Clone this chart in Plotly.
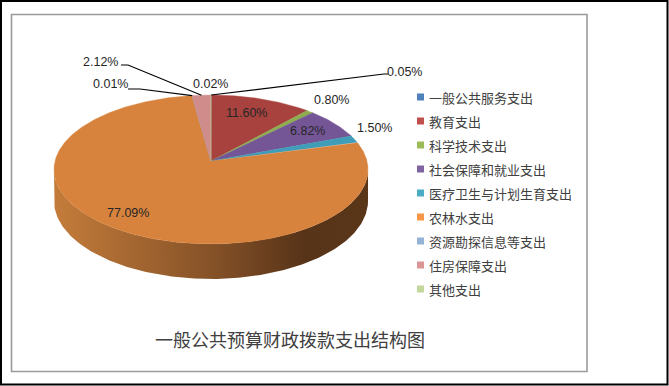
import numpy as np
import plotly.graph_objects as go

# ---------------- data ----------------
categories = ["一般公共服务支出", "教育支出", "科学技术支出", "社会保障和就业支出",
              "医疗卫生与计划生育支出", "农林水支出", "资源勘探信息等支出",
              "住房保障支出", "其他支出"]
shares = [0.05, 11.60, 0.80, 6.82, 1.50, 77.09, 0.01, 2.12, 0.02]
chart_title = "一般公共预算财政拨款支出结构图"

# ---------------- styles ----------------
legend_colors = ["#4F81BD", "#C0504D", "#9BBB59", "#8064A2", "#4BACC6",
                 "#F79646", "#95B3D7", "#D99694", "#C3D69B"]
top_colors = ["#4A78AE", "#A7423F", "#8EAD4F", "#745596", "#3F9DB8",
              "#D8833D", "#8CA8CF", "#D08C8B", "#B3C98D"]
side_scale = [[0, "#C47C3A"], [0.5, "#865228"], [0.8, "#573318"], [1, "#5A3619"]]

W, H = 669, 386
CX, CY, RX, RY, K, DEPTH = 211, 161, 156, 73.5, 0.114, 31

# label layout (text centre in pixels) and optional leader start points
label_pos = {0: (404, 72), 1: (246, 113), 2: (331, 100), 3: (307, 131),
             4: (374, 128), 5: (128, 213), 6: (110, 84), 7: (100, 62), 8: (210, 84)}
leader_start = {0: [(388, 74), (384, 74)], 6: [(128, 89), (140, 89)],
                7: [(121, 65), (128, 65)]}


def proj(theta_deg, f=1.0):
    t = np.radians(theta_deg)
    c = np.sin(t) * f
    s = -np.cos(t) * f
    den = 1 - K * s
    return CX + RX * c / den, CY + RY * s / den, s


total = sum(shares)
bounds = np.concatenate([[0], np.cumsum(shares)]) / total * 360.0

fig = go.Figure()

# ---- side wall (front visible part) ----
th_l = np.degrees(np.arccos(-K))
th_r = 360 - th_l
for i in range(len(shares)):
    a0, a1 = max(bounds[i], th_l), min(bounds[i + 1], th_r)
    if a1 <= a0:
        continue
    th = np.linspace(a0, a1, 200)
    xt, yt, s = proj(th)
    yb = yt + DEPTH / (1 - K * s)
    xs = np.concatenate([xt, xt[::-1], xt[:1]])
    ys = np.concatenate([yt, yb[::-1], yt[:1]])
    fig.add_trace(go.Scatter(x=xs, y=ys, mode="lines", fill="toself",
                             line=dict(width=0, color=top_colors[i]),
                             fillgradient=dict(type="horizontal", colorscale=side_scale),
                             hoverinfo="skip", showlegend=False))

# ---- top faces ----
for i in range(len(shares)):
    a0, a1 = bounds[i], bounds[i + 1]
    n = max(3, int((a1 - a0) * 2))
    th = np.linspace(a0, a1, n)
    xt, yt, _ = proj(th)
    xs = np.concatenate([[CX], xt, [CX]])
    ys = np.concatenate([[CY], yt, [CY]])
    fig.add_trace(go.Scatter(x=xs, y=ys, mode="lines", fill="toself",
                             fillcolor=top_colors[i],
                             line=dict(width=0.4, color=top_colors[i]),
                             name=categories[i], hoverinfo="name",
                             showlegend=False))

# ---- data labels ----
annotations = []
shapes = []
for i, v in enumerate(shares):
    lx, ly = label_pos[i]
    annotations.append(dict(x=lx, y=ly, xref="x", yref="y", text=f"{v:.2f}%",
                            showarrow=False, xanchor="center", yanchor="middle",
                            font=dict(family="Liberation Sans", size=12.5, color="#262626")))
    if i in leader_start:
        mid = (bounds[i] + bounds[i + 1]) / 2
        ex, ey, _ = proj(mid)
        pts = leader_start[i] + [(ex, ey)]
        path = "M " + " L ".join(f"{px:.1f},{py:.1f}" for px, py in pts)
        shapes.append(dict(type="path", path=path, xref="x", yref="y",
                           line=dict(color="#000000", width=1.2)))

# ---- legend (manual) ----
leg_y = [97 + 24 * i for i in range(len(categories))]
fig.add_trace(go.Scatter(x=[420.5] * len(categories), y=leg_y, mode="markers",
                         marker=dict(symbol="square", size=7, color=legend_colors,
                                     line=dict(width=0)),
                         hoverinfo="skip", showlegend=False))
for i, name in enumerate(categories):
    annotations.append(dict(x=427, y=leg_y[i], xref="x", yref="y", text=name,
                            showarrow=False, xanchor="left", yanchor="middle",
                            font=dict(family="Noto Sans CJK SC", size=13, color="#404040")))

# ---- title ----
annotations.append(dict(x=290, y=339, xref="x", yref="y", text=chart_title,
                        showarrow=False, xanchor="center", yanchor="middle",
                        font=dict(family="Noto Sans CJK SC", size=18, color="#404040")))

# ---- frames ----
shapes.append(dict(type="rect", xref="x", yref="y", x0=11.5, y0=14.5, x1=587, y1=371.5,
                   line=dict(color="#9A9A9A", width=1.6), layer="below"))
shapes.append(dict(type="rect", xref="x", yref="y", x0=1, y0=1, x1=667.5, y1=384.5,
                   line=dict(color="#000000", width=2)))

fig.update_layout(
    width=W, height=H, margin=dict(l=0, r=0, t=0, b=0),
    paper_bgcolor="white", plot_bgcolor="white",
    xaxis=dict(range=[0, W], visible=False, fixedrange=True),
    yaxis=dict(range=[H, 0], visible=False, fixedrange=True),
    annotations=annotations, shapes=shapes, showlegend=False,
)

fig.write_html("out.html", config={"displayModeBar": False},
               post_script="document.body.style.margin='0';document.body.style.overflow='hidden';")
